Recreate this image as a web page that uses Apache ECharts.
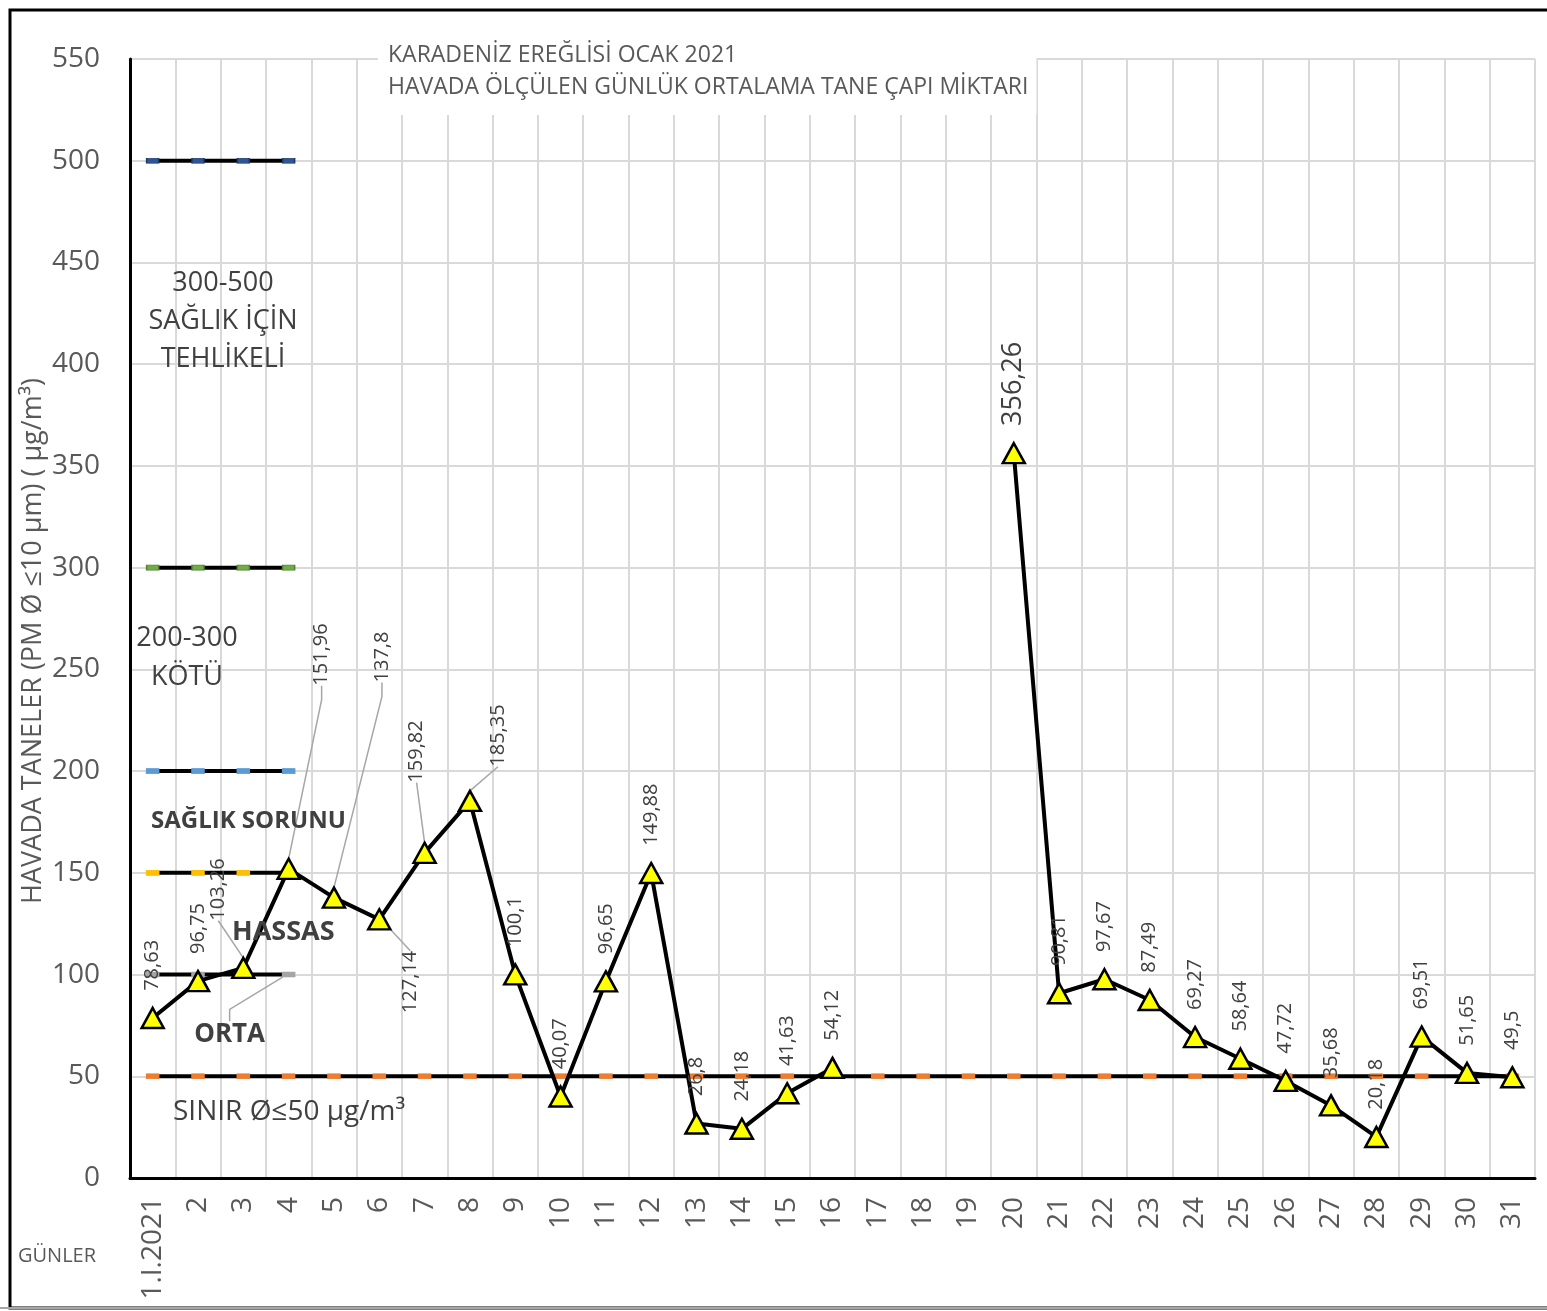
<!DOCTYPE html>
<html>
<head>
<meta charset="utf-8">
<script src="https://cdn.jsdelivr.net/npm/echarts@6/dist/echarts.min.js"></script>
<style>
  html, body { margin: 0; padding: 0; background: #ffffff; }
  #chart { width: 1547px; height: 1311px; }
</style>
</head>
<body>
<div id="chart"></div>
<script>
// Days of January 2021
const days = ['1.I.2021', '2', '3', '4', '5', '6', '7', '8', '9', '10', '11', '12', '13', '14', '15', '16',
  '17', '18', '19', '20', '21', '22', '23', '24', '25', '26', '27', '28', '29', '30', '31'];

// Daily mean PM10 (µg/m³); days 17-19 have no measurement
const pm10 = [78.63, 96.75, 103.26, 151.96, 137.8, 127.14, 159.82, 185.35, 100.1, 40.07, 96.65, 149.88,
  26.8, 24.18, 41.63, 54.12, null, null, null, 356.26, 90.81, 97.67, 87.49, 69.27, 58.64, 47.72,
  35.68, 20.18, 69.51, 51.65, 49.5];

// Limit value line (50 µg/m³) across the month
const limit50 = [50, 50, 50, 50, 50, 50, 50, 50, 50, 50, 50, 50, 50, 50, 50, 50,
  50, 50, 50, 50, 50, 50, 50, 50, 50, 50, 50, 50, 50, 50, 50];

// Short band markers drawn over the first four days
const band100 = [100, 100, 100, 100];
const band150 = [150, 150, 150, 150];
const band200 = [200, 200, 200, 200];
const band300 = [300, 300, 300, 300];
const band500 = [500, 500, 500, 500];

// Value axis ticks
const yMin = 0;
const yMax = 550;
const yStep = 50;

// Hand-placed data labels: [right, down] screen shift from the default spot above the marker
const labelShift = {
  2: [-25, -20],
  3: [33, -156],
  4: [48, -188],
  5: [31, 121],
  6: [-8, -43],
  7: [28, -7]
};
const withLeader = { 2: 0, 3: 14, 4: 14, 5: 0, 6: 0, 7: 0 };

const FONT = '"Open Sans", "Noto Sans", sans-serif';
const TXT = '#404040';
const AXIS_TXT = '#595959';

const fmt = v => String(v).replace('.', ',');

const pmData = pm10.map((v, i) => {
  if (v === null) return null;
  const item = { value: v };
  if (i in withLeader) {
    item.labelLine = { show: true, length2: withLeader[i], lineStyle: { color: '#A6A6A6', width: 1.5 } };
  }
  if (v > 300) {
    item.label = { fontSize: 27 };
  }
  return item;
});

function bandSeries(name, data, fill, edge, extra) {
  return Object.assign({
    name: name,
    type: 'line',
    data: data,
    symbol: 'rect',
    symbolSize: [12, 5],
    showSymbol: true,
    lineStyle: { color: '#000000', width: 4 },
    itemStyle: { color: fill, borderColor: edge, borderWidth: 1 },
    label: { show: false },
    emphasis: { disabled: true },
    silent: true,
    animation: false,
    z: 2
  }, extra || {});
}

const band100Data = band100.map((v, i) => i === 3 ? {
  value: v,
  label: {
    show: true, formatter: 'ORTA', position: 'bottom', distance: 4,
    fontFamily: FONT, fontSize: 26, fontWeight: 'bold', color: TXT
  },
  labelLine: { show: true, length2: 12, lineStyle: { color: '#A6A6A6', width: 1.5 } }
} : v);

const chart = echarts.init(document.getElementById('chart'), null, { renderer: 'canvas' });

chart.setOption({
  backgroundColor: '#ffffff',
  animation: false,
  textStyle: { fontFamily: FONT },
  title: {
    text: 'KARADENİZ EREĞLİSİ OCAK 2021\nHAVADA ÖLÇÜLEN GÜNLÜK ORTALAMA TANE ÇAPI MİKTARI',
    left: 378,
    top: 33,
    padding: [6, 8, 12, 10],
    backgroundColor: '#ffffff',
    textStyle: { fontFamily: FONT, fontSize: 23, fontWeight: 'normal', color: AXIS_TXT, lineHeight: 32 }
  },
  grid: { left: 130, right: 12, top: 59, bottom: 133, containLabel: false },
  xAxis: {
    type: 'category',
    data: days,
    boundaryGap: true,
    axisLine: { lineStyle: { color: '#000000', width: 3 } },
    axisTick: { show: false },
    axisLabel: { interval: 0, rotate: 90, margin: 19, fontFamily: FONT, fontSize: 28, color: AXIS_TXT },
    splitLine: { show: true, interval: 0, lineStyle: { color: '#D9D9D9', width: 2 } }
  },
  yAxis: {
    type: 'value',
    min: yMin,
    max: yMax,
    interval: yStep,
    axisLine: { show: true, lineStyle: { color: '#000000', width: 3 } },
    axisTick: { show: false },
    axisLabel: { margin: 30, fontFamily: FONT, fontSize: 28, color: AXIS_TXT },
    splitLine: { show: true, lineStyle: { color: '#D9D9D9', width: 2 } }
  },
  series: [
    bandSeries('500', band500, '#2F5597', '#1F3864'),
    bandSeries('300', band300, '#70AD47', '#548235'),
    bandSeries('200', band200, '#5B9BD5', '#5B9BD5'),
    bandSeries('150', band150, '#FFC000', '#FFC000'),
    bandSeries('100', band100Data, '#A5A5A5', '#A5A5A5', {
      labelLayout: { dx: -59, dy: 40 }
    }),
    bandSeries('SINIR', limit50, '#ED7D31', '#ED7D31'),
    {
      name: 'PM10',
      type: 'line',
      data: pmData,
      connectNulls: false,
      symbol: 'triangle',
      symbolSize: [22, 20],
      lineStyle: { color: '#000000', width: 4 },
      itemStyle: { color: '#FFFF00', borderColor: '#000000', borderWidth: 2.5 },
      label: {
        show: true,
        position: 'top',
        distance: 16,
        rotate: 90,
        align: 'left',
        verticalAlign: 'middle',
        fontFamily: FONT,
        fontSize: 20,
        color: TXT,
        formatter: p => fmt(p.value)
      },
      // labels are rotated 90°, so the layout shift is given in the label's own frame
      labelLayout: p => {
        const s = labelShift[p.dataIndex];
        return s ? { dx: -s[1], dy: s[0] } : {};
      },
      emphasis: { disabled: true },
      z: 3
    }
  ],
  graphic: [
    {
      type: 'rect', silent: true, z: 100,
      shape: { x: 10, y: 10, width: 1600, height: 1298 },
      style: { fill: null, stroke: '#000000', lineWidth: 3 }
    },
    {
      type: 'line', silent: true, z: 101,
      shape: { x1: 0, y1: 1308, x2: 1547, y2: 1308 },
      style: { stroke: '#A6A6A6', lineWidth: 2 }
    },
    {
      type: 'text', silent: true, z: 50, x: 33, y: 641, rotation: Math.PI / 2,
      style: {
        text: 'HAVADA TANELER (PM Ø ≤10 µm) ( µg/m³)', fontFamily: FONT, fontSize: 27,
        fill: AXIS_TXT, align: 'center', verticalAlign: 'middle'
      }
    },
    {
      type: 'text', silent: true, z: 50, x: 18, y: 1256,
      style: { text: 'GÜNLER', fontFamily: FONT, fontSize: 20, fill: AXIS_TXT, align: 'left', verticalAlign: 'middle' }
    },
    {
      type: 'text', silent: true, z: 50, x: 223, y: 321,
      style: {
        text: '300-500\nSAĞLIK İÇİN\nTEHLİKELİ', fontFamily: FONT, fontSize: 27, lineHeight: 38,
        fill: TXT, align: 'center', verticalAlign: 'middle'
      }
    },
    {
      type: 'text', silent: true, z: 50, x: 187, y: 658,
      style: {
        text: '200-300\nKÖTÜ', fontFamily: FONT, fontSize: 27, lineHeight: 39,
        fill: TXT, align: 'center', verticalAlign: 'middle'
      }
    },
    {
      type: 'text', silent: true, z: 50, x: 151, y: 821,
      style: { text: 'SAĞLIK SORUNU', fontFamily: FONT, fontSize: 24, fontWeight: 'bold', fill: TXT, align: 'left', verticalAlign: 'middle' }
    },
    {
      type: 'text', silent: true, z: 50, x: 232, y: 932,
      style: { text: 'HASSAS', fontFamily: FONT, fontSize: 27, fontWeight: 'bold', fill: TXT, align: 'left', verticalAlign: 'middle' }
    },
    {
      type: 'text', silent: true, z: 50, x: 173, y: 1112,
      style: { text: 'SINIR Ø≤50 µg/m³', fontFamily: FONT, fontSize: 28, fill: TXT, align: 'left', verticalAlign: 'middle' }
    }
  ]
});
</script>
</body>
</html>
